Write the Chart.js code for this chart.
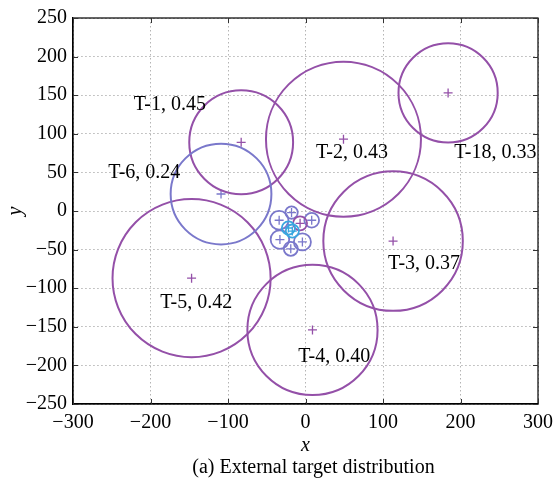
<!DOCTYPE html>
<html lang="en">
<head>
<meta charset="UTF-8">
<title>External target distribution</title>
<script src="https://cdn.jsdelivr.net/npm/chart.js@4.4.1/dist/chart.umd.min.js"></script>
<style>
  body { margin: 0; background: #fff; }
  .chart-container { position: relative; width: 554px; height: 478px; }
</style>
</head>
<body>
<div class="chart-container"><canvas id="targets" width="554" height="478"></canvas></div>
<script>
// Large targets: centre, radius (in axis units) and threat score
const targetNames  = ['T-1', 'T-2', 'T-3', 'T-4', 'T-5', 'T-6', 'T-18'];
const targetScores = [0.45, 0.43, 0.37, 0.40, 0.42, 0.24, 0.33];
const targetX      = [-83, 49, 113, 9, -147, -109, 184];
const targetY      = [89, 93, -39, -154, -87, 22, 153];
const targetR      = [67, 100, 90, 84, 102, 65, 64];
const targetGroup  = ['purple', 'purple', 'purple', 'purple', 'purple', 'blue', 'purple'];
// where each "name, score" label sits (axis units)
const labelX = [-175, 60, 153, 37, -141, -208, 245];
const labelY = [137, 76, -68, -189, -119, 49, 76];

// Small targets packed around the origin
const clusterX     = [-34, -18, 8, -33, -4, -19, -7, -22, -17];
const clusterY     = [-12, -2, -12, -37, -40, -49, -16, -22, -26];
const clusterR     = [12, 8, 9.5, 12, 11, 9, 9, 8.5, 8.5];
const clusterGroup = ['blue', 'blue', 'blue', 'blue', 'blue', 'blue', 'purple', 'cyan', 'cyan'];

const xTicks = [-300, -200, -100, 0, 100, 200, 300];
const yTicks = [-250, -200, -150, -100, -50, 0, 50, 100, 150, 200, 250];
const caption = '(a) External target distribution';

const palette = { purple: '#9450a8', blue: '#7a78cb', cyan: '#3aa6df' };
const FONT = '"Liberation Serif", "Times New Roman", serif';

const circles = [];
targetX.forEach((x, i) => circles.push({ x, y: targetY[i], r: targetR[i], g: targetGroup[i], big: true }));
clusterX.forEach((x, i) => circles.push({ x, y: clusterY[i], r: clusterR[i], g: clusterGroup[i], big: false }));

// convert a radius in axis units to pixels via the x scale
function pxRadius(chart, r) {
    const s = chart.scales.x;
    return Math.abs(s.getPixelForValue(r) - s.getPixelForValue(0));
}

const minus = v => String(v).replace('-', '\u2212');

// full box + inward tick marks on all four sides
const framePlugin = {
    id: 'frame',
    afterDatasetsDraw(chart) {
        const { ctx, chartArea: a, scales: { x, y } } = chart;
        ctx.save();
        ctx.strokeStyle = '#000';
        ctx.lineWidth = 1.2;
        ctx.strokeRect(a.left, a.top, a.right - a.left, a.bottom - a.top);
        ctx.strokeStyle = '#333';
        ctx.lineWidth = 1;
        ctx.beginPath();
        xTicks.forEach(v => {
            const px = Math.round(x.getPixelForValue(v)) + 0.5;
            ctx.moveTo(px, a.bottom); ctx.lineTo(px, a.bottom - 5);
            ctx.moveTo(px, a.top); ctx.lineTo(px, a.top + 5);
        });
        yTicks.forEach(v => {
            const py = Math.round(y.getPixelForValue(v)) + 0.5;
            ctx.moveTo(a.left, py); ctx.lineTo(a.left + 5, py);
            ctx.moveTo(a.right, py); ctx.lineTo(a.right - 5, py);
        });
        ctx.stroke();
        ctx.restore();
    },
    afterDraw(chart) {
        const { ctx, chartArea: a, scales: { x, y } } = chart;
        ctx.save();
        ctx.fillStyle = '#000';
        ctx.font = '20px ' + FONT;
        ctx.textAlign = 'center';
        ctx.textBaseline = 'middle';
        targetNames.forEach((name, i) => {
            ctx.fillText(name + ', ' + targetScores[i].toFixed(2),
                x.getPixelForValue(labelX[i]), y.getPixelForValue(labelY[i]));
        });
        ctx.textBaseline = 'alphabetic';
        ctx.fillText(caption, (a.left + a.right) / 2 + 8, a.bottom + 69);
        ctx.restore();
    }
};

new Chart(document.getElementById('targets'), {
    type: 'scatter',
    data: {
        datasets: [
            {
                label: 'areas',
                data: circles.map(c => ({ x: c.x, y: c.y })),
                pointStyle: 'circle',
                pointRadius: ctx => pxRadius(ctx.chart, circles[ctx.dataIndex].r),
                pointBorderColor: ctx => palette[circles[ctx.dataIndex].g],
                pointBorderWidth: ctx => circles[ctx.dataIndex].big ? 2 : 1.8,
                pointBackgroundColor: 'rgba(0,0,0,0)',
                clip: false
            },
            {
                label: 'centres',
                data: circles.map(c => ({ x: c.x, y: c.y })),
                pointStyle: 'cross',
                pointRadius: 4.5,
                pointBorderColor: ctx => palette[circles[ctx.dataIndex].g],
                pointBorderWidth: 1.3,
                clip: false
            }
        ]
    },
    options: {
        responsive: false,
        animation: false,
        events: [],
        layout: { padding: { left: 0, right: 16, top: 18, bottom: 0 } },
        plugins: { legend: { display: false }, tooltip: { enabled: false } },
        scales: {
            x: {
                type: 'linear',
                min: -300,
                max: 300,
                afterBuildTicks: s => { s.ticks = xTicks.map(v => ({ value: v })); },
                afterFit: s => { s.height = 74; s.paddingLeft = 0; s.paddingRight = 0; },
                grid: { color: '#b4b4b4', lineWidth: 1, drawTicks: false },
                border: { display: true, color: '#000', width: 1.2, dash: [1.5, 2.5] },
                ticks: { color: '#000', padding: 7, maxRotation: 0, font: { family: FONT, size: 20 }, callback: v => minus(v) },
                title: { display: true, text: 'x', color: '#000', padding: { top: 0, bottom: 20 },
                         font: { family: FONT, size: 20, style: 'italic' } }
            },
            y: {
                type: 'linear',
                min: -250,
                max: 250,
                afterBuildTicks: s => { s.ticks = yTicks.map(v => ({ value: v })); },
                afterFit: s => { s.width = 73; },
                grid: { color: '#b4b4b4', lineWidth: 1, drawTicks: false },
                border: { display: true, color: '#000', width: 1.2, dash: [1.5, 2.5] },
                ticks: { color: '#000', padding: 6, font: { family: FONT, size: 20 }, callback: v => minus(v) },
                title: { display: true, text: 'y', color: '#000', padding: { top: 4, bottom: 0 },
                         font: { family: FONT, size: 20, style: 'italic' } }
            }
        }
    },
    plugins: [framePlugin]
});
</script>
</body>
</html>
